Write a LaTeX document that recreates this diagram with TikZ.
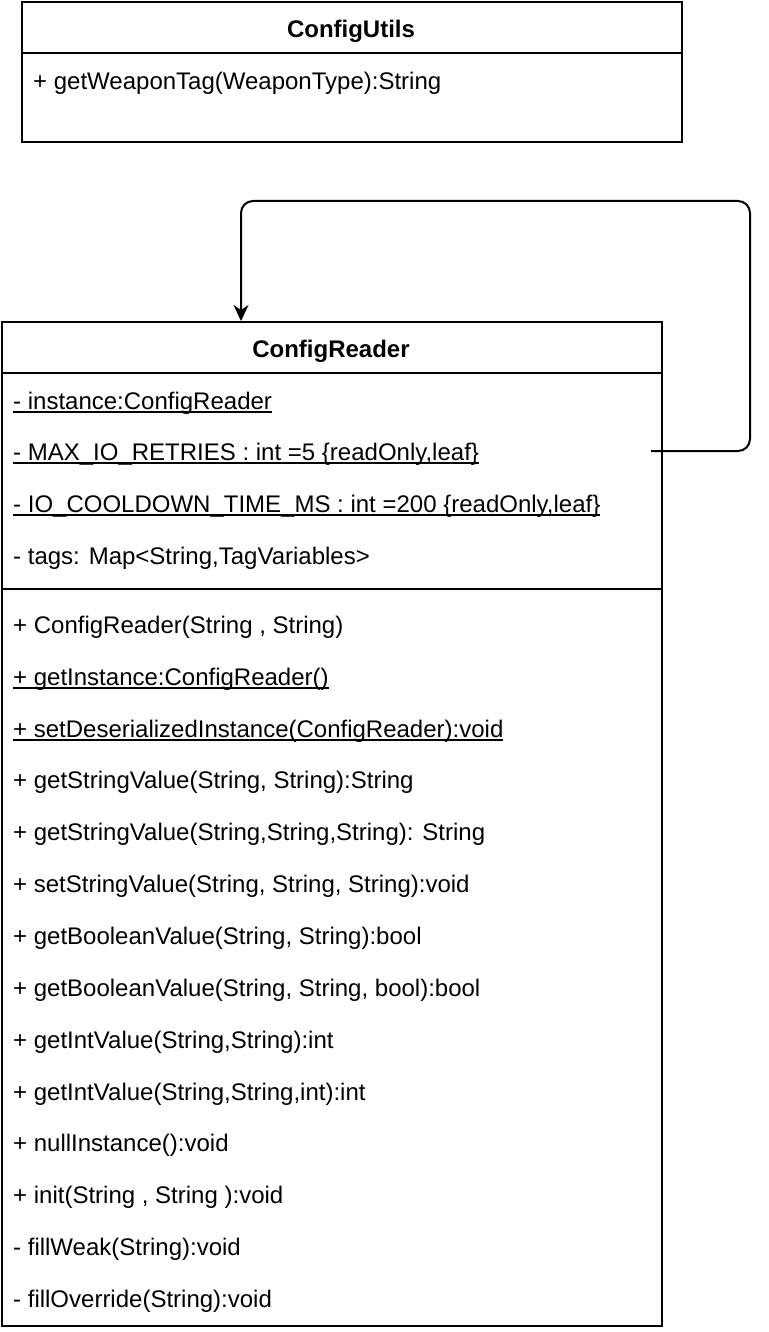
\documentclass[tikz,border=0pt]{standalone}
\usepackage{fontspec}
\setmainfont{Liberation Sans}
\usetikzlibrary{arrows.meta}
\newcommand\myul[1]{\setbox0\hbox{#1}\rlap{\rule[-3.2pt]{\wd0}{1.3pt}}\box0}
\begin{document}
\begin{tikzpicture}[x=1pt,y=-1pt,
  classbox/.style={draw, line width=2pt, inner sep=0pt, anchor=north west},
  sep/.style={line width=2pt},
  title/.style={font=\fontsize{24}{26}\selectfont\bfseries, inner sep=0pt, anchor=base},
  item/.style={font=\fontsize{24}{26}\selectfont, inner sep=0pt, anchor=base west},
  conn/.style={line width=2pt, rounded corners=12pt, -{Stealth[length=16pt,width=15pt,inset=5pt]}}]
\useasboundingbox (0,0) rectangle (768,1332);
\fill[white] (0,0) rectangle (768,1332);

% ConfigUtils
\node[classbox, minimum width=660pt, minimum height=140pt] (cu) at (21,1) {};
\draw[sep] (cu.west |- 0,53) -- (cu.east |- 0,53);
\node[title] (cut) at (351,37.5) {ConfigUtils};
\node[item] (cu1) at (33,89.5) {+ getWeaponTag(WeaponType):String};

% ConfigReader
\node[classbox, minimum width=660pt, minimum height=1004pt] (cr) at (1,321) {};
\draw[sep] (cr.west |- 0,373) -- (cr.east |- 0,373);
\draw[sep] (cr.west |- 0,589) -- (cr.east |- 0,589);
\node[title] (crt) at (331,357.5) {ConfigReader};

\node[item] (a1) at (13,409.5) {\myul{- instance:ConfigReader}};
\node[item] (a2) at (13,460.5) {\myul{- MAX\_IO\_RETRIES : int =5 \{readOnly,leaf\}}};
\node[item] (a3) at (13,512.5) {\myul{- IO\_COOLDOWN\_TIME\_MS : int =200 \{readOnly,leaf\}}};
\node[item] (a4) at (13,564.5) {- tags: Map<String,TagVariables>};

\node[item] (m1) at (13,633.5) {+ ConfigReader(String , String)};
\node[item] (m2) at (13,685.5) {\myul{+ getInstance:ConfigReader()}};
\node[item] (m3) at (13,737.5) {\myul{+ setDeserializedInstance(ConfigReader):void}};
\node[item] (m4) at (13,788.5) {+ getStringValue(String, String):String};
\node[item] (m5) at (13,840.5) {+ getStringValue(String,String,String): String};
\node[item] (m6) at (13,892.5) {+ setStringValue(String, String, String):void};
\node[item] (m7) at (13,944.5) {+ getBooleanValue(String, String):bool};
\node[item] (m8) at (13,996.5) {+ getBooleanValue(String, String, bool):bool};
\node[item] (m9) at (13,1048.5) {+ getIntValue(String,String):int};
\node[item] (m10) at (13,1100.5) {+ getIntValue(String,String,int):int};
\node[item] (m11) at (13,1151.5) {+ nullInstance():void};
\node[item] (m12) at (13,1203.5) {+ init(String , String ):void};
\node[item] (m13) at (13,1255.5) {- fillWeak(String):void};
\node[item] (m14) at (13,1307.5) {- fillOverride(String):void};

% self association
\coordinate (src) at (651,451);
\coordinate (tgt) at (241,321);
\draw[conn] (src) -- (750,451) -- (750,201) -- (tgt |- 0,201) -- (tgt);
\end{tikzpicture}
\end{document}
